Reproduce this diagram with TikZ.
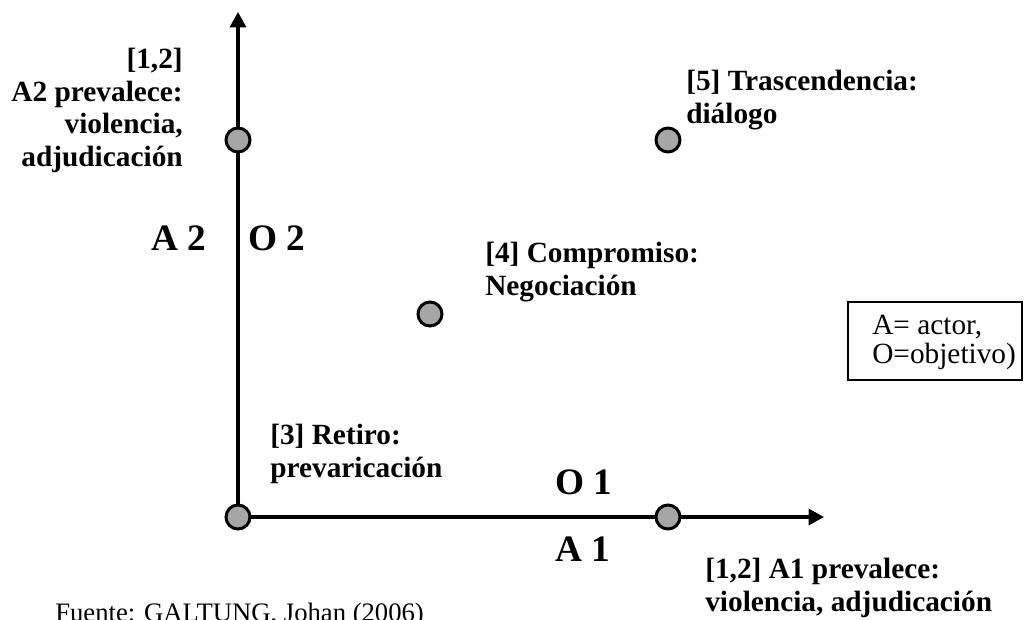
\documentclass[tikz,border=0pt]{standalone}
\usepackage{fontspec}
\setmainfont{Liberation Serif}
\usetikzlibrary{positioning,arrows.meta}
\definecolor{pointGray}{HTML}{A6A6A6}

\begin{document}
\begin{tikzpicture}[
    x=0.75pt, y=-0.75pt,
    axis/.style={
        -{Triangle[length=11.5pt,width=12pt]},
        line width=2.4pt
    },
    point/.style={
        circle,
        draw,
        fill=pointGray,
        line width=2.25pt,
        minimum size=18pt,
        inner sep=0pt
    },
    outcome/.style={
        font=\fontsize{22}{24.5}\selectfont\bfseries,
        inner sep=0pt,
        anchor=north west,
        align=left
    },
    axislabel/.style={
        font=\fontsize{28}{30}\selectfont\bfseries,
        inner sep=0pt,
        anchor=west
    },
    note/.style={
        font=\fontsize{22}{21.75}\selectfont,
        inner sep=0pt,
        anchor=west,
        align=left
    }
]
\useasboundingbox (0,0) rectangle (1035,619);

\coordinate (o) at (238,517);
\coordinate (ytip) at (238,12);
\coordinate (xtip) at (824,517);
\draw[axis] (o) -- (ytip);
\draw[axis] (o) -- (xtip);

\node[point] (retiro) at (o) {};
\node[point] (a2wins) at (238,140) {};
\node[point] (a1wins) at (668,517) {};
\node[point] (compromiso) at (430,314) {};
\node[point] (trasc) at (668,140) {};

\node[outcome, anchor=north east, align=right] (a2lab) at (183,48) {[1,2]\\A2 prevalece:\\violencia,\\adjudicación};
\node[outcome] (trasclab) at (686,70) {[5] Trascendencia:\\diálogo};
\node[outcome] (complab) at (485,242) {[4] Compromiso:\\Negociación};
\node[outcome] (retirolab) at (270,424) {[3] Retiro:\\prevaricación};
\node[outcome] (a1lab) at (705,558) {[1,2] A1 prevalece:\\violencia, adjudicación};

\node[axislabel] (actor2) at (151,238) {A 2};
\node[axislabel] (obj2) at (248,238) {O 2};
\node[axislabel] (obj1) at (555,482) {O 1};
\node[axislabel] (actor1) at (555,549) {A 1};

\node[note] (key) at (872,342) {A= actor,\\O=objetivo)};
\draw[line width=0.8pt] (848,302) rectangle (1022,380);

\node[note, anchor=base west, font=\fontsize{20}{22}\selectfont] (fuente) at (55,621) {Fuente: GALTUNG, Johan (2006)};
\end{tikzpicture}
\end{document}
